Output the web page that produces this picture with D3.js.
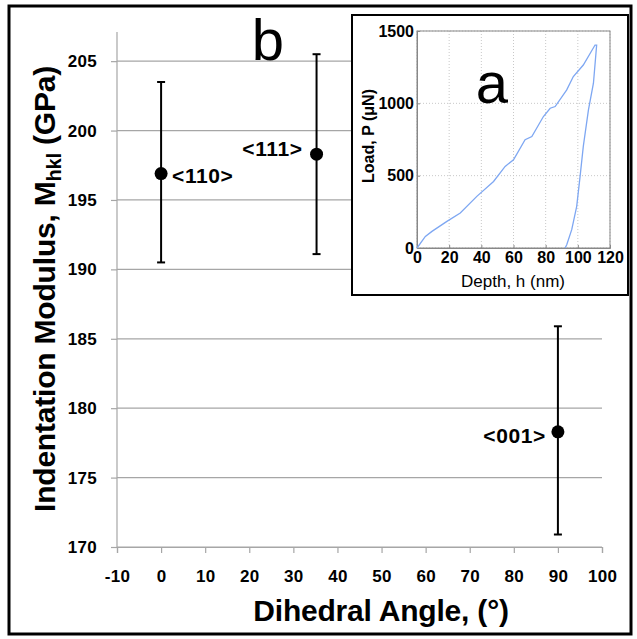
<!DOCTYPE html>
<html>
<head lang="en">
    <meta charset="UTF-8">
    <script type="text/javascript" src="https://d3js.org/d3.v7.min.js"></script>
    <style>
        body { margin: 0; background: #fff; }
        text { font-family: "Liberation Sans", Arial, sans-serif; }
    </style>
</head>
<body>
    <svg id="chart" width="637" height="639"></svg>
    <script>
        // main chart: indentation modulus vs dihedral angle
        var angles = [0, 35.26, 90];
        var modulus = [196.9, 198.3, 178.3];
        var errUp = [6.6, 7.2, 7.6];
        var errDown = [6.4, 7.2, 7.4];
        var directions = ["<110>", "<111>", "<001>"];
        var xTicks = [-10, 0, 10, 20, 30, 40, 50, 60, 70, 80, 90, 100];
        var yTicks = [170, 175, 180, 185, 190, 195, 200, 205];

        // inset: load-depth curve
        var loadDepth = [0, 5.2, 9.3, 18.6, 26.9, 37.2, 47.6, 54.8, 60, 67.2, 71.4, 78.6, 82.8, 85.9, 93.1, 97.2, 103.4, 110.7, 111.7];
        var loadP = [0, 80, 115, 184, 242, 357, 460, 564, 610, 748, 771, 909, 966, 978, 1093, 1185, 1265, 1403, 1403];
        var unloadDepth = [111.7, 109.7, 106.6, 103.4, 101.4, 99.3, 96.2, 93.1, 92.1];
        var unloadP = [1403, 1139, 955, 702, 495, 288, 127, 23, 0];
        var insetXTicks = [0, 20, 40, 60, 80, 100, 120];
        var insetYTicks = [0, 500, 1000, 1500];

        var svg = d3.select("#chart");
        var plain = function(d){ return String(d); };

        var x = d3.scaleLinear().domain([-10, 100]).range([117, 602]);
        var y = d3.scaleLinear().domain([170, 207.1]).range([547, 32]);

        // gridlines
        svg.append("g")
            .selectAll("line")
            .data(yTicks)
            .enter()
            .append("line")
                .attr("x1", x(-10))
                .attr("x2", x(100))
                .attr("y1", function(d){return y(d);})
                .attr("y2", function(d){return y(d);})
                .attr("stroke", "#a6a6a6")
                .attr("stroke-width", 1.2);

        // axes
        var yAxis = svg.append("g")
            .attr("transform", "translate(" + x(-10) + ",0)")
            .call(d3.axisLeft(y).tickValues(yTicks).tickFormat(plain).tickSize(6).tickPadding(14));
        var xAxis = svg.append("g")
            .attr("transform", "translate(0," + y(170) + ")")
            .call(d3.axisBottom(x).tickValues(xTicks).tickFormat(plain).tickSize(6).tickPadding(17));
        [xAxis, yAxis].forEach(function(a){
            a.select(".domain").attr("stroke", "#a6a6a6").attr("stroke-width", 1.2);
            a.selectAll(".tick line").attr("stroke", "#a6a6a6").attr("stroke-width", 1.2);
            a.selectAll(".tick text")
                .attr("fill", "#000")
                .style("font-family", "'Liberation Sans', Arial, sans-serif")
                .style("font-size", "17px")
                .style("font-weight", "bold")
                .style("letter-spacing", "0.3px");
        });
        yAxis.select(".domain").attr("d", "M0," + y(207.1) + "V" + y(170));

        // error bars
        var pts = angles.map(function(a, i){
            return {x: a, y: modulus[i], up: modulus[i] + errUp[i], down: modulus[i] - errDown[i], label: directions[i]};
        });
        var bars = svg.append("g").selectAll("g").data(pts).enter().append("g");
        bars.append("line")
            .attr("x1", function(d){return x(d.x);})
            .attr("x2", function(d){return x(d.x);})
            .attr("y1", function(d){return y(d.up);})
            .attr("y2", function(d){return y(d.down);})
            .attr("stroke", "#000").attr("stroke-width", 2);
        bars.selectAll(".cap")
            .data(function(d){return [d.up, d.down].map(function(v){return {x: d.x, v: v};});})
            .enter()
            .append("line")
                .attr("x1", function(d){return x(d.x) - 4;})
                .attr("x2", function(d){return x(d.x) + 4;})
                .attr("y1", function(d){return y(d.v);})
                .attr("y2", function(d){return y(d.v);})
                .attr("stroke", "#000").attr("stroke-width", 2);
        bars.append("circle")
            .attr("cx", function(d){return x(d.x);})
            .attr("cy", function(d){return y(d.y);})
            .attr("r", 6.5)
            .attr("fill", "#000");

        // point labels
        var labelPos = [{dx: 11, dy: 9, anchor: "start"}, {dx: -14, dy: 2, anchor: "end"}, {dx: -12, dy: 11, anchor: "end"}];
        bars.append("text")
            .attr("x", function(d, i){return x(d.x) + labelPos[i].dx;})
            .attr("y", function(d, i){return y(d.y) + labelPos[i].dy;})
            .attr("text-anchor", function(d, i){return labelPos[i].anchor;})
            .style("font-size", "21px")
            .style("font-weight", "bold")
            .style("letter-spacing", "0.6px")
            .text(function(d){return d.label;});

        // axis titles
        svg.append("text")
            .attr("x", 381)
            .attr("y", 621)
            .attr("text-anchor", "middle")
            .style("font-size", "30px")
            .style("font-weight", "bold")
            .style("letter-spacing", "-0.2px")
            .text("Dihedral Angle, (°)");
        var yt = svg.append("text")
            .attr("transform", "translate(55,289) rotate(-90)")
            .attr("text-anchor", "middle")
            .style("font-size", "30px")
            .style("font-weight", "bold")
            .style("letter-spacing", "-0.2px");
        yt.append("tspan").text("Indentation Modulus, M");
        yt.append("tspan").attr("dy", 6).style("font-size", "20px").text("hkl");
        yt.append("tspan").attr("dy", -6).text(" (GPa)");

        svg.append("text")
            .attr("x", 268)
            .attr("y", 60)
            .attr("text-anchor", "middle")
            .style("font-size", "58px")
            .text("b");

        ////////////////// inset //////////////////
        svg.append("rect")
            .attr("x", 352).attr("y", 15)
            .attr("width", 276).attr("height", 280)
            .attr("fill", "#fff")
            .attr("stroke", "#000")
            .attr("stroke-width", 2);

        var ix = d3.scaleLinear().domain([0, 120]).range([417, 610]);
        var iy = d3.scaleLinear().domain([0, 1500]).range([248, 31]);

        var inset = svg.append("g");
        inset.selectAll(".vgrid")
            .data(insetXTicks)
            .enter()
            .append("line")
                .attr("x1", function(d){return ix(d);})
                .attr("x2", function(d){return ix(d);})
                .attr("y1", iy(0)).attr("y2", iy(1500))
                .attr("stroke", "#c8c8c8")
                .attr("stroke-dasharray", "1,2");
        inset.selectAll(".hgrid")
            .data(insetYTicks)
            .enter()
            .append("line")
                .attr("x1", ix(0)).attr("x2", ix(120))
                .attr("y1", function(d){return iy(d);})
                .attr("y2", function(d){return iy(d);})
                .attr("stroke", "#c8c8c8")
                .attr("stroke-dasharray", "1,2");

        var ixAxis = inset.append("g")
            .attr("transform", "translate(0," + iy(0) + ")")
            .call(d3.axisBottom(ix).tickValues(insetXTicks).tickFormat(plain).tickSize(-3).tickPadding(4));
        var iyAxis = inset.append("g")
            .attr("transform", "translate(" + ix(0) + ",0)")
            .call(d3.axisLeft(iy).tickValues(insetYTicks).tickFormat(plain).tickSize(-3).tickPadding(3));
        [ixAxis, iyAxis].forEach(function(a){
            a.select(".domain").attr("stroke", "#888");
            a.selectAll(".tick line").attr("stroke", "#888");
            a.selectAll(".tick text")
                .attr("fill", "#000")
                .style("font-family", "'Liberation Sans', Arial, sans-serif")
                .style("font-size", "16px")
                .style("font-weight", "bold");
        });
        inset.append("rect")
            .attr("x", ix(0)).attr("y", iy(1500))
            .attr("width", ix(120) - ix(0)).attr("height", iy(0) - iy(1500))
            .attr("fill", "none")
            .attr("stroke", "#888");

        var line = d3.line()
            .x(function(d){return ix(d[0]);})
            .y(function(d){return iy(d[1]);});
        var curve = loadDepth.map(function(d, i){return [d, loadP[i]];})
            .concat(unloadDepth.map(function(d, i){return [d, unloadP[i]];}));
        inset.append("path")
            .attr("d", line(curve))
            .attr("fill", "none")
            .attr("stroke", "#7ea7f2")
            .attr("stroke-width", 1.3);

        inset.append("text")
            .attr("x", 513)
            .attr("y", 287)
            .attr("text-anchor", "middle")
            .style("font-size", "17px")
            .text("Depth, h (nm)");
        inset.append("text")
            .attr("transform", "translate(374,136) rotate(-90)")
            .attr("text-anchor", "middle")
            .style("font-size", "16px")
            .style("font-weight", "bold")
            .text("Load, P (μN)");
        inset.append("text")
            .attr("x", 492)
            .attr("y", 103)
            .attr("text-anchor", "middle")
            .style("font-size", "58px")
            .text("a");

        // figure border
        svg.append("rect")
            .attr("x", 9).attr("y", 6)
            .attr("width", 622).attr("height", 628)
            .attr("fill", "none")
            .attr("stroke", "#000")
            .attr("stroke-width", 3);
    </script>
</body>
</html>
